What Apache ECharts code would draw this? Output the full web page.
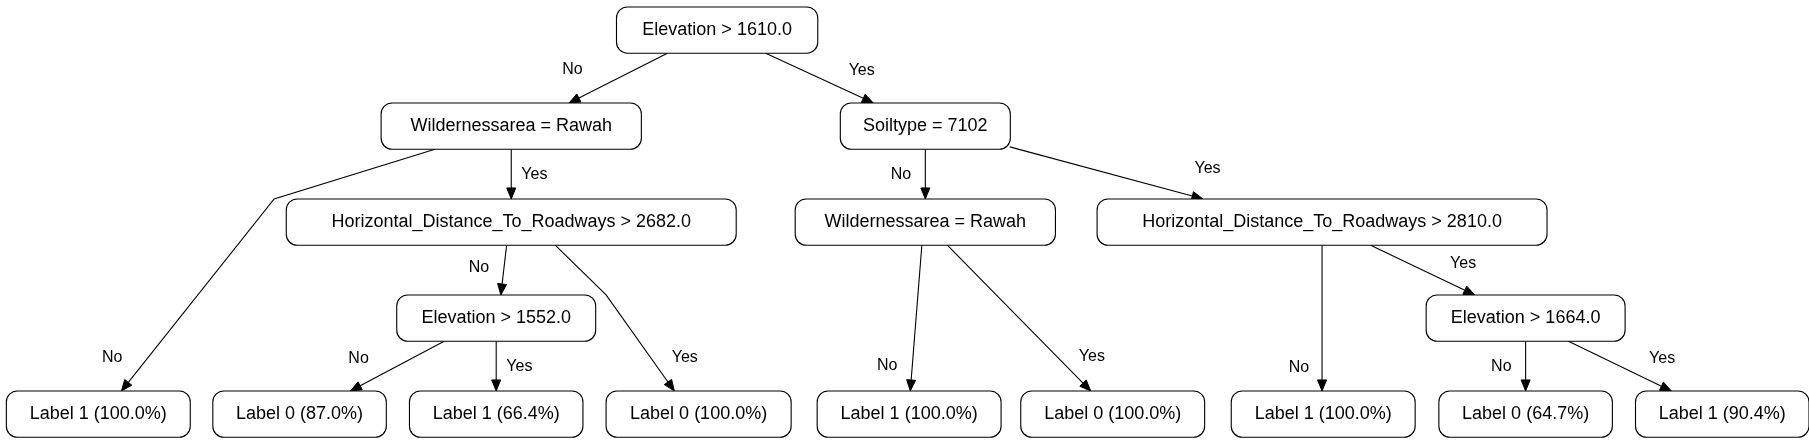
<!DOCTYPE html>
<html><head><meta charset="utf-8">
<script src="https://cdn.jsdelivr.net/npm/echarts@6/dist/echarts.min.js"></script>
<style>html,body{margin:0;padding:0;background:#fff}#c{width:1809px;height:443px}</style>
</head><body><div id="c"></div>
<script>
// Tree content
var nodeLabels = ["Elevation > 1610.0","Wildernessarea = Rawah","Soiltype = 7102",
 "Horizontal_Distance_To_Roadways > 2682.0","Wildernessarea = Rawah","Horizontal_Distance_To_Roadways > 2810.0",
 "Elevation > 1552.0","Elevation > 1664.0",
 "Label 1 (100.0%)","Label 0 (87.0%)","Label 1 (66.4%)","Label 0 (100.0%)",
 "Label 1 (100.0%)","Label 0 (100.0%)","Label 1 (100.0%)","Label 0 (64.7%)","Label 1 (90.4%)"];
var edgeFrom = [0,0,1,1,3,3,6,6,2,2,4,4,5,5,7,7];
var edgeTo   = [1,2,8,3,6,11,9,10,4,5,12,13,14,7,15,16];
var edgeLabels = ["No","Yes","No","Yes","No","Yes","No","Yes","No","Yes","No","Yes","No","Yes","No","Yes"];

// Layout (positions only, in a 1564x383 layout space)
var nodeLayout = [[620,26,174],[442,109,225],[800,109,147],[442,192,389],[800,192,225],[1143,192,389],
 [429,275,172],[1319,275,172],[85,358,159],[259,358,150],[429,358,150],[604,358,160],
 [786,358,159],[962,358,159],[1144,358,159],[1319,358,150],[1489,358,150]];
var edgePaths = [[[577,46],[492,89]],[[662,46],[755,89]],[[376,129],[237,172],[105,338]],[[442,129],[442,172]],
 [[438,212],[433,255]],[[480,212],[524,255],[583,338]],[[384,295],[303,338]],[[429,295],[429,338]],
 [[800,129],[800,172]],[[873,127],[1040,172]],[[797,212],[787,338]],[[819,212],[943,338]],
 [[1143,212],[1143,338]],[[1185,212],[1275,255]],[[1319,295],[1319,338]],[[1356,295],[1445,338]]];
var edgeLabelPos = [[495,60],[745,61],[97,309],[462,151],[414,231],[592,309],[310,310],[449,317],
 [779,151],[1044,146],[767,316],[944,308],[1123,318],[1265,228],[1298,317],[1437,310]];

var S = 1809/1564;
var chart = echarts.init(document.getElementById('c'));
var nodeData = nodeLabels.map(function(l,i){return [nodeLayout[i][0],nodeLayout[i][1],nodeLayout[i][2]];});
var edgeData = edgePaths.map(function(p,i){return [i];});
var elData = edgeLabels.map(function(l,i){return [edgeLabelPos[i][0],edgeLabelPos[i][1]];});
var FONT = 'Liberation Sans, Arial, sans-serif';
chart.setOption({
  animation:false,
  grid:{left:0,right:0,top:0,bottom:0},
  xAxis:{type:'value',min:0,max:1564,show:false},
  yAxis:{type:'value',min:0,max:383,inverse:true,show:false},
  series:[
    {type:'custom',data:edgeData,z:1,renderItem:function(p,api){
      var pts=edgePaths[p.dataIndex].map(function(q){return api.coord(q);});
      var a=pts[pts.length-2], b=pts[pts.length-1];
      var dx=b[0]-a[0], dy=b[1]-a[1], L=Math.sqrt(dx*dx+dy*dy); dx/=L; dy/=L;
      var al=11, aw=4.5;
      var base=[b[0]-dx*al,b[1]-dy*al];
      var line=pts.slice(0,-1).concat([base]);
      return {type:'group',children:[
        {type:'polyline',shape:{points:line},style:{stroke:'#000',lineWidth:1.1,fill:null}},
        {type:'polygon',shape:{points:[b,[base[0]-dy*aw,base[1]+dx*aw],[base[0]+dy*aw,base[1]-dx*aw]]},style:{fill:'#000',stroke:'#000'}}
      ]};
    }},
    {type:'custom',data:nodeData,z:2,renderItem:function(p,api){
      var c=api.coord([api.value(0),api.value(1)]);var w=api.value(2)*S;var h=40*S;
      return {type:'group',children:[
        {type:'rect',shape:{x:c[0]-w/2,y:c[1]-h/2,width:w,height:h,r:11},style:{fill:'#fff',stroke:'#000',lineWidth:1.1}},
        {type:'text',style:{x:c[0],y:c[1],text:nodeLabels[p.dataIndex],fill:'#000',font:'18px '+FONT,align:'center',verticalAlign:'middle'}}
      ]};
    }},
    {type:'custom',data:elData,z:3,renderItem:function(p,api){
      var c=api.coord([api.value(0),api.value(1)]);
      return {type:'text',style:{x:c[0],y:c[1],text:edgeLabels[p.dataIndex],fill:'#000',font:'16px '+FONT,align:'center',verticalAlign:'middle'}};
    }}
  ]
});
</script></body></html>
